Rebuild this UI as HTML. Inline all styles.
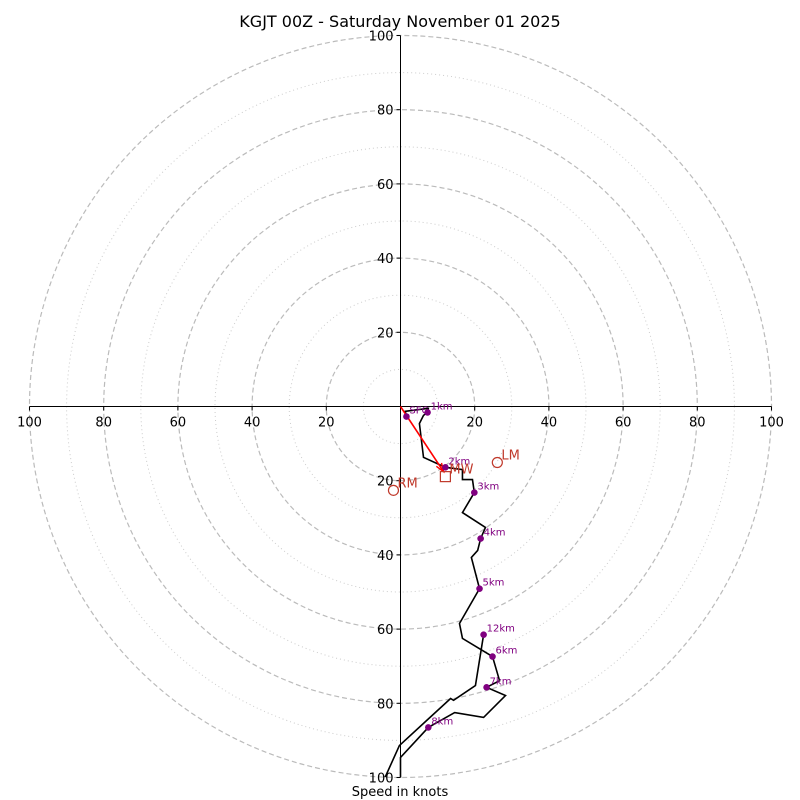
<!DOCTYPE html>
<html><head><meta charset="utf-8"><style>
body{margin:0;background:#fff}
svg{display:block;font-family:"DejaVu Sans","Liberation Sans",sans-serif}
</style></head><body>
<svg id="chart" width="800" height="800" viewBox="0 0 800 800">
<rect width="800" height="800" fill="#fff"/>
<text x="400" y="27" text-anchor="middle" font-size="16">KGJT 00Z - Saturday November 01 2025</text>
<text x="400" y="796" text-anchor="middle" font-size="13">Speed in knots</text>
<defs><clipPath id="clip"><circle cx="400.5" cy="406.5" r="371"/></clipPath></defs>
<g id="grid"></g><g id="axes"></g><g id="series" clip-path="url(#clip)"></g><g id="marks"></g>
</svg>
<script>
const ringValues=[10,20,30,40,50,60,70,80,90,100];
const tickValues=[20,40,60,80,100];
const hodoU=[1.6,1.3,7.5,7.3,6.2,5.1,6.2,12.1,16.7,16.7,19.4,19.9,16.7,22.9,21.6,20.8,19.1,21.3,15.9,16.7,24.8,26.7,23.2,28.3,26.1,22.4,14.6,7.5,0,0,-4.9,-0.3,7.3,13.5,14.3,20.2,22.4];
const hodoV=[-2.7,-1.3,-0.5,-1.6,-2.4,-4.6,-13.7,-16.4,-17.0,-19.7,-19.7,-23.2,-28.6,-32.6,-35.6,-38.8,-40.7,-49.1,-58.5,-62.5,-67.4,-73.9,-75.7,-77.9,-80.1,-83.8,-82.5,-86.5,-94.6,-100,-101.6,-91.4,-84.4,-78.7,-79.2,-75.2,-61.5];
const heightLabels=["SFC","1km","2km","3km","4km","5km","6km","7km","8km","12km"];
const heightU=[1.6,7.3,12.1,19.9,21.6,21.3,24.8,23.2,7.5,22.4];
const heightV=[-2.7,-1.6,-16.4,-23.2,-35.6,-49.1,-67.4,-75.7,-86.5,-61.5];
const motionLabels=["LM","RM","MW"];
const motionU=[26.1,-1.9,12.1];
const motionV=[-15.1,-22.6,-18.9];
const cx=400.5,cy=406.5,k=3.71;
const sx=u=>cx+u*k, sy=v=>cy-v*k;
const NS="http://www.w3.org/2000/svg";
function mk(tag,parent,attrs){const e=document.createElementNS(NS,tag);for(const a in attrs)e.setAttribute(a,attrs[a]);document.getElementById(parent).appendChild(e);return e;}
ringValues.forEach(r=>{
 const major=r%20===0;
 const c=mk('circle','grid',{cx:cx,cy:cy,r:r*k,fill:'none',stroke:major?'#bbb':'#ccc','stroke-width':major?1.2:1,'stroke-dasharray':major?'5,3':'1,3'});
 
 
});
let l=mk('line','axes',{x1:cx-100*k,y1:cy,x2:cx+100*k,y2:cy,stroke:'#000','stroke-width':1});


l=mk('line','axes',{x1:cx,y1:cy-100*k,x2:cx,y2:cy+100*k,stroke:'#000','stroke-width':1});


tickValues.forEach(t=>{
 [-1,1].forEach(s=>{
  const x=sx(s*t);
  mk('line','axes',{x1:x,y1:cy,x2:x,y2:cy+4,stroke:'#000'});
  const tx=mk('text','axes',{x:x,y:cy+20,'text-anchor':'middle','font-size':13});
  tx.textContent=t;
  
  
  const y=sy(s*t);
  mk('line','axes',{x1:cx-4,y1:y,x2:cx,y2:y,stroke:'#000'});
  const ty=mk('text','axes',{x:cx-7,y:y+5,'text-anchor':'end','font-size':13});
  ty.textContent=t;
  
  
 });
});
const pts=hodoU.map((u,i)=>sx(u)+','+sy(hodoV[i])).join(' ');
const pl=mk('polyline','series',{points:pts,fill:'none',stroke:'#000','stroke-width':1.6});


// mean wind vector with arrowhead
const mwx=sx(motionU[2]*0.96),mwy=sy(motionV[2]*0.93);
const rl=mk('line','marks',{x1:cx,y1:cy,x2:mwx,y2:mwy,stroke:'red','stroke-width':1.6});


const ang=Math.atan2(mwy-cy,mwx-cx),al=9;
const ah=mk('polyline','marks',{points:`${mwx-al*Math.cos(ang-0.35)},${mwy-al*Math.sin(ang-0.35)} ${mwx},${mwy} ${mwx-al*Math.cos(ang+0.35)},${mwy-al*Math.sin(ang+0.35)}`,fill:'none',stroke:'red','stroke-width':1.4});


heightLabels.forEach((h,i)=>{
 const c=mk('circle','marks',{cx:sx(heightU[i]),cy:sy(heightV[i]),r:3.3,fill:'#800080'});
 
 
 const t=mk('text','marks',{x:sx(heightU[i])+3,y:sy(heightV[i])-3,'font-size':10,fill:'#800080'});
 t.textContent=h;
 
 
});
motionLabels.forEach((m,i)=>{
 const x=sx(motionU[i]),y=sy(motionV[i]);
 let e;
 if(m==='MW') e=mk('rect','marks',{x:x-5,y:y-5,width:10,height:10,fill:'none',stroke:'#c0392b','stroke-width':1.2});
 else e=mk('circle','marks',{cx:x,cy:y,r:5,fill:'none',stroke:'#c0392b','stroke-width':1.2});
 
 
 const t=mk('text','marks',{x:x+4,y:y-3,'font-size':13,fill:'#c0392b'});
 t.textContent=m;
 
 
});
</script>
</body></html>
